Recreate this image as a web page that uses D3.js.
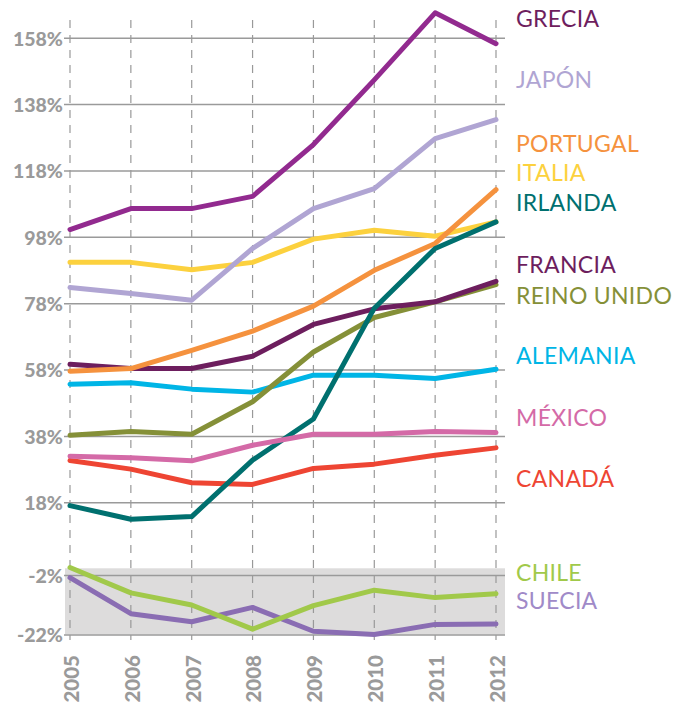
<!DOCTYPE html>
<html>
<head>
<meta charset="utf-8">
<script src="https://cdn.jsdelivr.net/npm/d3@7"></script>
<style>
  html, body { margin: 0; padding: 0; background: #fff; }
  svg { display: block; }
</style>
</head>
<body>
<svg id="chart" width="692" height="706"></svg>
<script>
// ---------- DATA ----------
const years = [2005, 2006, 2007, 2008, 2009, 2010, 2011, 2012];
const mainTicks = [18, 38, 58, 78, 98, 118, 138, 158];
const lowTicks = [-2, -22];

const grecia    = [100.2, 106.5, 106.5, 110.2, 125.8, 145.3, 165.5, 156.2];
const japon     = [82.7, 80.9, 78.9, 94.5, 106.5, 112.5, 127.6, 133.3];
const portugal  = [57.5, 58.3, 63.8, 69.6, 77.1, 87.9, 96.0, 112.2];
const italia    = [90.3, 90.3, 88.1, 90.3, 97.3, 100.0, 98.2, 102.5];
const irlanda   = [17.0, 12.9, 13.7, 30.7, 43.1, 76.5, 94.5, 102.5];
const francia   = [59.6, 58.3, 58.3, 62.0, 71.6, 76.3, 78.4, 84.6];
const reinoUnido= [38.2, 39.3, 38.5, 48.3, 63.3, 73.7, 78.4, 83.6];
const alemania  = [53.6, 54.0, 52.1, 51.2, 56.3, 56.3, 55.3, 58.1];
const mexico    = [31.9, 31.4, 30.5, 35.2, 38.5, 38.5, 39.3, 39.0];
const canada    = [30.6, 28.0, 23.9, 23.4, 28.2, 29.5, 32.2, 34.4];
const chile     = [0.5, -8.0, -12.1, -20.2, -12.3, -7.1, -9.6, -8.3];
const suecia    = [-2.9, -15.0, -17.7, -12.9, -20.9, -22.0, -18.6, -18.5];

// drawing order (bottom to top)
const series = [
  { name: "SUECIA",      values: suecia,     color: "#8a6db3", label: "#a08ac8", panel: "low"  },
  { name: "CHILE",       values: chile,      color: "#a1c94a", label: "#a1c94a", panel: "low"  },
  { name: "CANADÁ",      values: canada,     color: "#ee4533", label: "#ee4533", panel: "main" },
  { name: "ALEMANIA",    values: alemania,   color: "#00b5e6", label: "#00b5e6", panel: "main" },
  { name: "REINO UNIDO", values: reinoUnido, color: "#859038", label: "#859038", panel: "main" },
  { name: "FRANCIA",     values: francia,    color: "#6d1e5e", label: "#6d1e5e", panel: "main" },
  { name: "ITALIA",      values: italia,     color: "#fcd13e", label: "#fcd13e", panel: "main" },
  { name: "PORTUGAL",    values: portugal,   color: "#f5923e", label: "#f5923e", panel: "main" },
  { name: "IRLANDA",     values: irlanda,    color: "#00706f", label: "#00706f", panel: "main" },
  { name: "MÉXICO",      values: mexico,     color: "#d46aa7", label: "#d46aa7", panel: "main" },
  { name: "JAPÓN",       values: japon,      color: "#b0a5d3", label: "#b0a5d3", panel: "main" },
  { name: "GRECIA",      values: grecia,     color: "#922a8f", label: "#6e1e5e", panel: "main" }
];

// legend labels, top to bottom, positioned as values on their panel scale
const labelNames = ["GRECIA","JAPÓN","PORTUGAL","ITALIA","IRLANDA","FRANCIA","REINO UNIDO","ALEMANIA","MÉXICO","CANADÁ","CHILE","SUECIA"];
const labelValues = [163.6, 145.2, 126.2, 117.2, 108.2, 89.6, 80.3, 62.3, 43.6, 25.0, -1.4, -10.6];
const labelPanels = ["main","main","main","main","main","main","main","main","main","main","low","low"];

// ---------- LAYOUT ----------
const svg = d3.select("#chart");
const fontLabel = "'Lato', 'Open Sans', sans-serif";
const gridLeft = 65, gridRight = 505;

const x = d3.scalePoint().domain(years).range([70, 496]);
const yMain = d3.scaleLinear().domain([18, 158]).range([502.3, 37.7]);
const yLow  = d3.scaleLinear().domain([-22, -2]).range([634.5, 575]);
const yOf = p => p === "low" ? yLow : yMain;

// grey band for the lower panel
svg.append("rect")
  .attr("x", gridLeft).attr("y", 568.3)
  .attr("width", gridRight - gridLeft).attr("height", 634.5 - 568.3)
  .attr("fill", "#dddcdc");

// vertical dashed year lines
svg.append("g").selectAll("line").data(years).join("line")
  .attr("x1", d => x(d)).attr("x2", d => x(d))
  .attr("y1", 20).attr("y2", 640)
  .attr("stroke", "#999").attr("stroke-width", 1.2)
  .attr("stroke-dasharray", "8,7");

// horizontal grid lines + tick labels (via d3 axes)
function drawAxis(scale, ticks) {
  const g = svg.append("g").attr("transform", `translate(${gridLeft + 3},0)`)
    .call(d3.axisLeft(scale).tickValues(ticks).tickFormat(d => d + "%")
      .tickSizeInner(-(gridRight - gridLeft - 3)).tickSizeOuter(0).tickPadding(5));
  g.select(".domain").remove();
  g.selectAll(".tick line").attr("stroke", "#9a9a9a").attr("stroke-width", 1.5)
    .attr("x1", -4);
  g.selectAll(".tick text")
    .attr("fill", "#9a9a9a")
    .attr("font-family", fontLabel)
    .attr("font-weight", 900)
    .attr("font-size", "19.5px")
    .attr("x", -5)
    .attr("dy", "0.38em");
}
drawAxis(yMain, mainTicks);
drawAxis(yLow, lowTicks);

// year labels (rotated)
const xAxis = svg.append("g").attr("transform", "translate(0,655)")
  .call(d3.axisBottom(x).tickSize(0).tickPadding(0).tickFormat(d3.format("d")));
xAxis.select(".domain").remove();
xAxis.selectAll(".tick text")
  .attr("transform", "rotate(-90)")
  .attr("text-anchor", "end")
  .attr("x", 0).attr("y", 0)
  .attr("dy", "0.38em")
  .attr("fill", "#9a9a9a")
  .attr("font-family", fontLabel)
  .attr("font-weight", 900)
  .attr("font-size", "20.5px");
xAxis.selectAll(".tick").each(function(d) {
  d3.select(this).attr("transform", `translate(${x(d) + 1},0)`);
});

// lines
series.forEach(s => {
  const ys = yOf(s.panel);
  const line = d3.line().x((d, i) => x(years[i])).y(d => ys(d));
  svg.append("path")
    .datum(s.values)
    .attr("d", line)
    .attr("fill", "none")
    .attr("stroke", s.color)
    .attr("stroke-width", 5)
    .attr("stroke-linejoin", "round")
    .attr("stroke-linecap", "round");
});

// labels at the right
const labelColor = name => series.find(s => s.name === name).label;
svg.append("g").selectAll("text").data(labelNames).join("text")
  .attr("x", 516)
  .attr("y", (d, i) => yOf(labelPanels[i])(labelValues[i]))
  .attr("dy", "0.36em")
  .attr("fill", d => labelColor(d))
  .attr("font-family", fontLabel)
  .attr("font-size", "23px")
  .attr("letter-spacing", "0.3px")
  .text(d => d);
</script>
</body>
</html>
